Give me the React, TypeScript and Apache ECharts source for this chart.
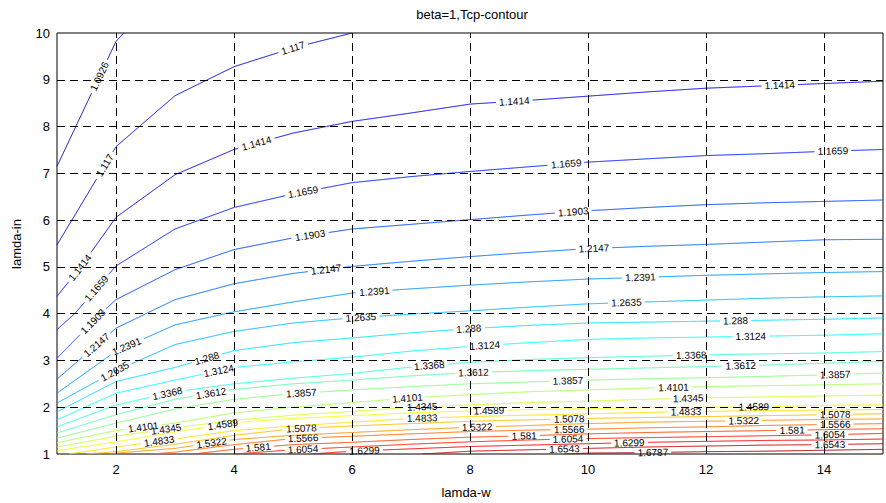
import React, { useEffect, useRef } from "react";
import * as echarts from "echarts";

// Canvas and plot-box geometry
const W = 886;
const H = 503;
const GRID = { left: 57, right: -4, top: 33, bottom: 49 };
const X_MIN = 1;
const X_MAX = 15;
const Y_MIN = 1;
const Y_MAX = 10;

// Colour-scale limits of the jet colormap
const C_MIN = 1.068;
const C_MAX = 1.703;

const FONT = "'Liberation Sans', Arial, Helvetica, sans-serif";
const LABEL_SIZE = 10;

// Contour levels
const levels = [
  1.0926, 1.117, 1.1414, 1.1659, 1.1903, 1.2147, 1.2391, 1.2635, 1.288, 1.3124,
  1.3368, 1.3612, 1.3857, 1.4101, 1.4345, 1.4589, 1.4833, 1.5078, 1.5322, 1.5566,
  1.581, 1.6054, 1.6299, 1.6543, 1.6787,
];

// Contour polylines, [lamda-w, lamda-in]
const c10926 = [[1, 7.15], [2, 9.82], [2.13, 10]];
const c1117 = [[1, 5.47], [2, 7.57], [3, 8.66], [4, 9.28], [5, 9.68], [6, 10]];
const c11414 = [[1, 4.37], [1.4, 5.0], [2, 6.06], [3, 6.97], [4, 7.51], [5, 7.86], [6, 8.11], [7, 8.29], [8, 8.48], [9, 8.56], [10, 8.65], [11, 8.74], [12, 8.82], [13, 8.87], [14, 8.92], [15, 8.97]];
const c11659 = [[1, 3.66], [1.3, 4.0], [2, 5.02], [3, 5.81], [4, 6.27], [5, 6.56], [6, 6.8], [7, 6.93], [8, 7.04], [9, 7.14], [10, 7.24], [11, 7.31], [12, 7.38], [13, 7.42], [14, 7.47], [15, 7.51]];
const c11903 = [[1, 3.05], [1.74, 4.0], [2, 4.3], [3, 4.94], [4, 5.37], [5, 5.62], [6, 5.81], [7, 5.91], [8, 6.01], [9, 6.11], [10, 6.2], [11, 6.27], [12, 6.33], [13, 6.37], [14, 6.4], [15, 6.43]];
const c12147 = [[1, 2.6], [2, 3.69], [3, 4.3], [4, 4.64], [5, 4.86], [6, 5.01], [7, 5.12], [8, 5.22], [9, 5.31], [10, 5.39], [11, 5.44], [12, 5.48], [13, 5.53], [14, 5.58], [15, 5.59]];
const c12391 = [[1, 2.3], [2, 3.2], [3, 3.76], [4, 4.04], [5, 4.25], [6, 4.44], [7, 4.53], [8, 4.61], [9, 4.68], [10, 4.74], [11, 4.78], [12, 4.82], [13, 4.85], [14, 4.88], [15, 4.9]];
const c12635 = [[1, 2.09], [2, 2.78], [3, 3.34], [4, 3.62], [5, 3.8], [6, 3.91], [7, 3.99], [8, 4.06], [9, 4.14], [10, 4.21], [11, 4.25], [12, 4.29], [13, 4.33], [14, 4.36], [15, 4.38]];
const c1288 = [[1, 1.9], [2, 2.55], [3, 2.85], [4, 3.21], [5, 3.38], [6, 3.48], [7, 3.59], [8, 3.68], [9, 3.75], [10, 3.8], [11, 3.82], [12, 3.84], [13, 3.86], [14, 3.88], [15, 3.91]];
const c13124 = [[1, 1.73], [2, 2.3], [3, 2.58], [4, 2.85], [5, 2.97], [6, 3.07], [7, 3.2], [8, 3.3], [9, 3.38], [10, 3.45], [11, 3.48], [12, 3.5], [13, 3.52], [14, 3.54], [15, 3.57]];
const c13368 = [[1, 1.58], [2, 2.05], [3, 2.33], [4, 2.5], [5, 2.62], [6, 2.72], [7, 2.86], [8, 2.96], [9, 3.02], [10, 3.06], [11, 3.09], [12, 3.12], [13, 3.14], [14, 3.16], [15, 3.19]];
const c13612 = [[1, 1.45], [2, 1.84], [3, 2.17], [4, 2.38], [5, 2.5], [6, 2.58], [7, 2.67], [8, 2.74], [9, 2.78], [10, 2.81], [11, 2.84], [12, 2.87], [13, 2.9], [14, 2.94], [15, 2.98]];
const c13857 = [[1, 1.34], [2, 1.66], [3, 1.96], [4, 2.17], [5, 2.29], [6, 2.37], [7, 2.44], [8, 2.5], [9, 2.54], [10, 2.58], [11, 2.61], [12, 2.63], [13, 2.66], [14, 2.69], [15, 2.73]];
const c14101 = [[1, 1.24], [2, 1.5], [3, 1.66], [4, 1.88], [5, 2.0], [6, 2.1], [7, 2.2], [8, 2.27], [9, 2.33], [10, 2.37], [11, 2.41], [12, 2.44], [13, 2.46], [14, 2.48], [15, 2.5]];
const c14345 = [[1, 1.15], [2, 1.38], [3, 1.56], [4, 1.72], [5, 1.83], [6, 1.91], [7, 2.0], [8, 2.05], [9, 2.1], [10, 2.13], [11, 2.17], [12, 2.2], [13, 2.22], [14, 2.24], [15, 2.26]];
const c14589 = [[1, 1.07], [2, 1.26], [3, 1.47], [4, 1.67], [5, 1.76], [6, 1.82], [7, 1.88], [8, 1.92], [9, 1.95], [10, 1.97], [11, 1.99], [12, 2.0], [13, 2.01], [14, 2.04], [15, 2.05]];
const c14833 = [[1.2, 1], [2, 1.15], [3, 1.32], [4, 1.5], [5, 1.6], [6, 1.68], [7, 1.76], [8, 1.8], [9, 1.83], [10, 1.86], [11, 1.89], [12, 1.91], [13, 1.93], [14, 1.94], [15, 1.95]];
const c15078 = [[1.5, 1], [2, 1.05], [3, 1.21], [4, 1.4], [5, 1.54], [6, 1.6], [7, 1.65], [8, 1.7], [9, 1.73], [10, 1.76], [11, 1.78], [12, 1.8], [13, 1.82], [14, 1.84], [15, 1.86]];
const c15322 = [[1.9, 1], [2, 1.02], [3, 1.12], [4, 1.31], [5, 1.4], [6, 1.46], [7, 1.52], [8, 1.57], [9, 1.61], [10, 1.65], [11, 1.68], [12, 1.7], [13, 1.72], [14, 1.74], [15, 1.75]];
const c15566 = [[2.6, 1], [3, 1.04], [4, 1.2], [5, 1.33], [6, 1.38], [7, 1.43], [8, 1.48], [9, 1.51], [10, 1.53], [11, 1.56], [12, 1.58], [13, 1.61], [14, 1.63], [15, 1.65]];
const c1581 = [[3.3, 1], [4, 1.1], [5, 1.2], [6, 1.25], [7, 1.31], [8, 1.36], [9, 1.39], [10, 1.43], [11, 1.46], [12, 1.48], [13, 1.5], [14, 1.52], [15, 1.54]];
const c16054 = [[4.0, 1], [5, 1.09], [6, 1.15], [7, 1.21], [8, 1.26], [9, 1.3], [10, 1.33], [11, 1.35], [12, 1.37], [13, 1.39], [14, 1.41], [15, 1.44]];
const c16299 = [[5.3, 1], [6, 1.06], [7, 1.11], [8, 1.16], [9, 1.19], [10, 1.22], [11, 1.25], [12, 1.27], [13, 1.29], [14, 1.3], [15, 1.32]];
const c16543 = [[7.2, 1], [8, 1.06], [9, 1.09], [10, 1.12], [11, 1.15], [12, 1.17], [13, 1.19], [14, 1.2], [15, 1.22]];
const c16787 = [[9.6, 1], [10, 1.02], [11, 1.03], [12, 1.05], [13, 1.06], [14, 1.08], [15, 1.1]];

const contourPaths = [
  c10926, c1117, c11414, c11659, c11903, c12147, c12391, c12635, c1288, c13124,
  c13368, c13612, c13857, c14101, c14345, c14589, c14833, c15078, c15322, c15566,
  c1581, c16054, c16299, c16543, c16787,
];

// lamda-w positions of the inline level labels, one list per level
const labelXs = [
  [1.72], [1.81, 5.0], [1.39, 4.38, 8.75, 13.25], [1.67, 5.17, 9.63, 14.15],
  [1.61, 5.29, 9.75], [1.67, 5.56, 10.1], [2.18, 6.38, 10.89], [1.98, 6.15, 10.65],
  [3.54, 7.98, 12.5], [3.74, 8.25, 12.76], [2.87, 7.31, 11.75], [3.61, 8.06, 12.59],
  [5.14, 9.66, 14.19], [2.46, 6.94, 11.45], [2.85, 7.19, 11.7], [3.81, 8.32, 12.81],
  [2.73, 7.19, 11.66], [5.14, 9.68, 14.19], [3.62, 8.12, 12.64], [5.17, 9.68, 14.19],
  [4.41, 8.92, 13.46], [5.17, 9.66, 14.1], [6.21, 10.7], [9.6, 14.1], [11.1],
];

const xTicks = [2, 4, 6, 8, 10, 12, 14];
const yTicks = [2, 3, 4, 5, 6, 7, 8, 9];

const PX = (W - GRID.left - GRID.right) / (X_MAX - X_MIN);
const PY = (H - GRID.top - GRID.bottom) / (Y_MAX - Y_MIN);

const toPx = (p: number[]) => [GRID.left + (p[0] - X_MIN) * PX, H - GRID.bottom - (p[1] - Y_MIN) * PY];
const fromPx = (p: number[]) => [X_MIN + (p[0] - GRID.left) / PX, Y_MIN + (H - GRID.bottom - p[1]) / PY];

function jet(v: number) {
  const t = (v - C_MIN) / (C_MAX - C_MIN);
  const c = (u: number) => Math.round(255 * Math.max(0, Math.min(1, u)));
  return `rgb(${c(1.5 - Math.abs(4 * t - 3))},${c(1.5 - Math.abs(4 * t - 2))},${c(1.5 - Math.abs(4 * t - 1))})`;
}

function pointOn(path: number[][], x: number) {
  for (let i = 0; i < path.length - 1; i++) {
    const a = path[i];
    const b = path[i + 1];
    if (x >= a[0] && x <= b[0]) {
      const f = (x - a[0]) / (b[0] - a[0]);
      const y = a[1] + f * (b[1] - a[1]);
      const angle = (Math.atan2((b[1] - a[1]) * PY, (b[0] - a[0]) * PX) * 180) / Math.PI;
      return { y, angle };
    }
  }
  const last = path[path.length - 1];
  return { y: last[1], angle: 0 };
}

function textWidth(s: string) {
  let w = 0;
  for (const ch of s) w += ch === "." ? 2.78 : 5.56;
  return (w * LABEL_SIZE) / 10;
}

// Split a polyline into pieces that leave room for its labels
function cutPath(path: number[][], holes: { px: number; py: number; r: number }[]) {
  const pts: number[][] = [];
  for (let i = 0; i < path.length - 1; i++) {
    const a = toPx(path[i]);
    const b = toPx(path[i + 1]);
    const len = Math.hypot(b[0] - a[0], b[1] - a[1]);
    const n = Math.max(1, Math.ceil(len / 0.75));
    for (let k = 0; k < n; k++) {
      const f = k / n;
      pts.push([a[0] + f * (b[0] - a[0]), a[1] + f * (b[1] - a[1])]);
    }
  }
  pts.push(toPx(path[path.length - 1]));
  const segs: number[][][] = [];
  let cur: number[][] = [];
  for (const p of pts) {
    const inside = holes.some((h) => Math.hypot(p[0] - h.px, p[1] - h.py) < h.r);
    if (inside) {
      if (cur.length > 1) segs.push(cur);
      cur = [];
    } else {
      cur.push(fromPx(p));
    }
  }
  if (cur.length > 1) segs.push(cur);
  return segs;
}

export default function App() {
  const ref = useRef<HTMLDivElement>(null);

  useEffect(() => {
    if (!ref.current) return;
    const chart = echarts.init(ref.current, undefined, { renderer: "svg" });

    const lineData: any[] = [];
    const labelData: any[] = [];
    levels.forEach((lv, i) => {
      const path = contourPaths[i];
      const text = String(lv);
      const color = jet(lv);
      const holes: { px: number; py: number; r: number }[] = [];
      labelXs[i].forEach((x) => {
        const { y, angle } = pointOn(path, x);
        const [px, py] = toPx([x, y]);
        holes.push({ px, py, r: textWidth(text) / 2 + 3 });
        labelData.push({ name: text, value: [x, y], label: { rotate: angle } });
      });
      cutPath(path, holes).forEach((seg) => {
        lineData.push({ coords: seg, lineStyle: { color } });
      });
    });

    const gridMarks = [
      ...xTicks.map((v) => ({ xAxis: v })),
      ...yTicks.map((v) => ({ yAxis: v })),
    ];

    chart.setOption({
      animation: false,
      backgroundColor: "#ffffff",
      grid: {
        left: GRID.left,
        right: GRID.right,
        top: GRID.top,
        bottom: GRID.bottom,
        show: true,
        borderColor: "#000",
        borderWidth: 1,
        backgroundColor: "transparent",
      },
      xAxis: {
        type: "value",
        min: X_MIN,
        max: X_MAX,
        interval: 1,
        axisLine: { show: false },
        axisTick: { show: false },
        splitLine: { show: false },
        axisLabel: {
          margin: 9,
          fontFamily: FONT,
          fontSize: 13,
          color: "#000",
          formatter: (v: number) => (xTicks.includes(v) ? String(v) : ""),
        },
      },
      yAxis: {
        type: "value",
        min: Y_MIN,
        max: Y_MAX,
        interval: 1,
        axisLine: { show: false },
        axisTick: { show: false },
        splitLine: { show: false },
        axisLabel: { margin: 7, fontFamily: FONT, fontSize: 13, color: "#000" },
      },
      series: [
        {
          type: "lines",
          coordinateSystem: "cartesian2d",
          polyline: true,
          silent: true,
          z: 2,
          lineStyle: { width: 1, opacity: 1 },
          data: lineData,
        },
        {
          type: "scatter",
          silent: true,
          z: 3,
          symbolSize: 0,
          itemStyle: { opacity: 1 },
          data: labelData,
          label: {
            show: true,
            position: "inside",
            formatter: "{b}",
            fontFamily: FONT,
            fontSize: LABEL_SIZE,
            color: "#000",
            opacity: 1,
            textBorderWidth: 0,
            textShadowBlur: 0,
          },
        },
        {
          type: "line",
          data: [],
          silent: true,
          z: 5,
          markLine: {
            silent: true,
            symbol: "none",
            label: { show: false },
            lineStyle: { type: [8, 5], color: "#000", width: 1 },
            data: gridMarks,
          },
        },
      ],
      graphic: [
        {
          type: "text",
          x: 472,
          y: 14,
          style: { text: "beta=1,Tcp-contour", font: `13px ${FONT}`, fill: "#000", align: "center", verticalAlign: "middle" },
        },
        {
          type: "text",
          x: 466,
          y: 492,
          style: { text: "lamda-w", font: `13px ${FONT}`, fill: "#000", align: "center", verticalAlign: "middle" },
        },
        {
          type: "text",
          x: 16,
          y: 244,
          rotation: Math.PI / 2,
          style: { text: "lamda-in", font: `13px ${FONT}`, fill: "#000", align: "center", verticalAlign: "middle" },
        },
      ],
    });

    return () => chart.dispose();
  }, []);

  return <div ref={ref} style={{ position: "absolute", left: 0, top: 0, width: W, height: H }} />;
}
